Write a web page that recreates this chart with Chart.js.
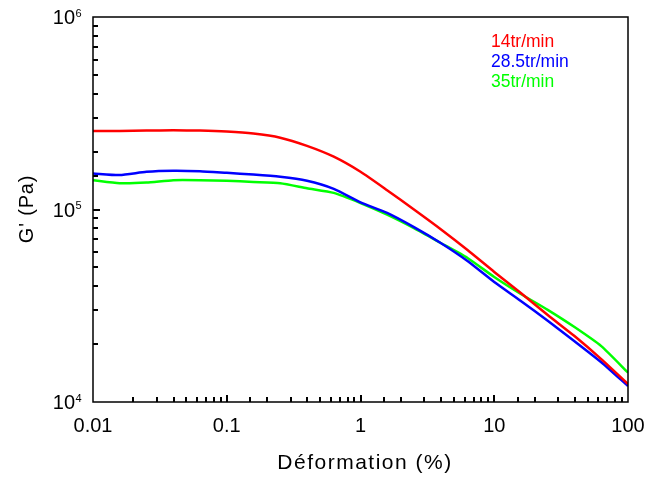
<!DOCTYPE html>
<html>
<head>
<meta charset="utf-8">
<script src="https://cdn.jsdelivr.net/npm/chart.js@4.4.1/dist/chart.umd.min.js"></script>
<style>
    html, body { margin: 0; padding: 0; background: #fff; }
    #wrap { width: 647px; height: 481px; }
</style>
</head>
<body>
<div id="wrap"><canvas id="chart"></canvas></div>
<script>
// strain (%) and storage modulus G' (Pa)
const strainPct = [0.01, 0.0158, 0.0251, 0.0398, 0.0631, 0.1, 0.158, 0.251, 0.398, 0.631,
    1, 1.58, 2.51, 3.98, 6.31, 10, 15.8, 25.1, 39.8, 63.1, 100];
const g14 = [2.56e5, 2.56e5, 2.57e5, 2.58e5, 2.57e5, 2.54e5, 2.48e5, 2.36e5, 2.14e5, 1.88e5,
    1.57e5, 1.26e5, 1.0e5, 7.9e4, 6.16e4, 4.74e4, 3.68e4, 2.83e4, 2.2e4, 1.67e4, 1.24e4];
const g285 = [1.54e5, 1.51e5, 1.57e5, 1.59e5, 1.58e5, 1.55e5, 1.52e5, 1.48e5, 1.41e5, 1.28e5,
    1.09e5, 9.6e4, 8.1e4, 6.7e4, 5.4e4, 4.2e4, 3.35e4, 2.64e4, 2.07e4, 1.61e4, 1.21e4];
const g35 = [1.42e5, 1.37e5, 1.38e5, 1.42e5, 1.42e5, 1.41e5, 1.39e5, 1.37e5, 1.29e5, 1.22e5,
    1.08e5, 9.4e4, 8.0e4, 6.7e4, 5.6e4, 4.46e4, 3.64e4, 3.01e4, 2.45e4, 1.95e4, 1.42e4];

const seriesLabels = ["14tr/min", "28.5tr/min", "35tr/min"];
const seriesColors = ["#ff0000", "#0000ff", "#00ff00"];
const xTickLabels = ["0.01", "0.1", "1", "10", "100"];
const yTickExponents = ["4", "5", "6"];

const FONT = "'Liberation Sans', Arial, sans-serif";

function toPoints(ys) {
    return strainPct.map((x, i) => ({ x: x, y: ys[i] }));
}

function isDecade(v) {
    const l = Math.log10(v);
    return Math.abs(l - Math.round(l)) < 1e-6;
}

const framePlugin = {
    id: "frame",
    afterDraw(chart) {
        const ctx = chart.ctx;
        const area = chart.chartArea;
        const xs = chart.scales.x;
        const ys = chart.scales.y;

        ctx.save();
        ctx.strokeStyle = "#000";
        ctx.lineWidth = 1.5;
        ctx.strokeRect(area.left, area.top, area.right - area.left, area.bottom - area.top);

        // inward ticks on bottom and left
        ctx.lineWidth = 2;
        xs.ticks.forEach(function (t) {
            if (t.value <= xs.min || t.value >= xs.max) return;
            const px = Math.round(xs.getPixelForValue(t.value));
            const len = isDecade(t.value) ? 7 : 5;
            ctx.beginPath();
            ctx.moveTo(px, area.bottom);
            ctx.lineTo(px, area.bottom - len);
            ctx.stroke();
        });
        ys.ticks.forEach(function (t) {
            if (t.value <= ys.min || t.value >= ys.max) return;
            const py = Math.round(ys.getPixelForValue(t.value));
            const len = isDecade(t.value) ? 7 : 5;
            ctx.beginPath();
            ctx.moveTo(area.left, py);
            ctx.lineTo(area.left + len, py);
            ctx.stroke();
        });

        // x tick labels
        ctx.fillStyle = "#000";
        ctx.font = "20px " + FONT;
        ctx.textAlign = "center";
        ctx.textBaseline = "alphabetic";
        xTickLabels.forEach(function (lab) {
            const px = xs.getPixelForValue(parseFloat(lab));
            ctx.fillText(lab, px, 432);
        });

        // y tick labels 10^n
        yTickExponents.forEach(function (e) {
            const py = ys.getPixelForValue(Math.pow(10, parseInt(e)));
            ctx.font = "20px " + FONT;
            ctx.textAlign = "right";
            ctx.fillText("10", 75, py + 7);
            ctx.font = "11px " + FONT;
            ctx.textAlign = "left";
            ctx.fillText(e, 75.5, py - 0.5);
        });

        // axis titles
        ctx.font = "21px " + FONT;
        ctx.textAlign = "center";
        ctx.letterSpacing = "1.5px";
        ctx.fillText("Déformation (%)", 365, 469);
        ctx.font = "20px " + FONT;
        ctx.letterSpacing = "0.8px";
        ctx.save();
        ctx.translate(33, 209);
        ctx.rotate(-Math.PI / 2);
        ctx.fillText("G' (Pa)", 0, 0);
        ctx.restore();
        ctx.letterSpacing = "0px";

        // legend text
        ctx.font = "17.5px " + FONT;
        ctx.textAlign = "left";
        chart.data.datasets.forEach(function (ds, i) {
            ctx.fillStyle = ds.borderColor;
            ctx.fillText(ds.label, 491, 47 + i * 20);
        });
        ctx.restore();
    }
};

new Chart(document.getElementById("chart"), {
    type: "line",
    data: {
        datasets: [
            { label: seriesLabels[0], data: toPoints(g14), borderColor: seriesColors[0] },
            { label: seriesLabels[1], data: toPoints(g285), borderColor: seriesColors[1] },
            { label: seriesLabels[2], data: toPoints(g35), borderColor: seriesColors[2] },
        ],
    },
    options: {
        responsive: true,
        maintainAspectRatio: false,
        animation: false,
        layout: { padding: { top: 17, right: 19, left: 0, bottom: 0 } },
        elements: {
            line: { borderWidth: 2.5, tension: 0.2 },
            point: { radius: 0 },
        },
        plugins: {
            legend: { display: false },
            tooltip: { enabled: false },
        },
        scales: {
            x: {
                type: "logarithmic",
                min: 0.01,
                max: 100,
                grid: { display: false },
                border: { display: false },
                ticks: { display: false },
                afterFit: function (scale) { scale.height = 79; },
            },
            y: {
                type: "logarithmic",
                min: 1e4,
                max: 1e6,
                grid: { display: false },
                border: { display: false },
                ticks: { display: false },
                afterFit: function (scale) { scale.width = 93; },
            },
        },
    },
    plugins: [framePlugin],
});
</script>
</body>
</html>
